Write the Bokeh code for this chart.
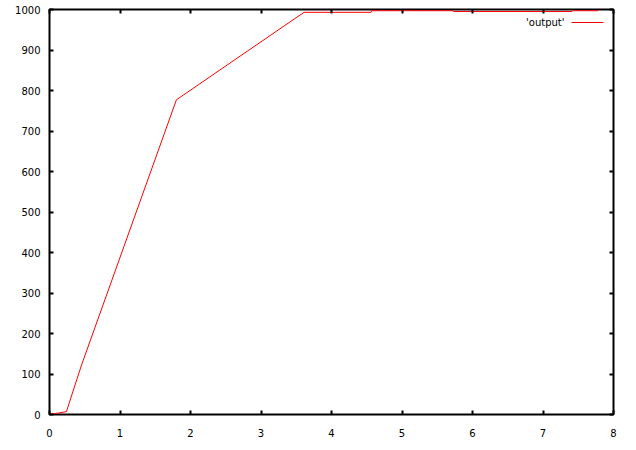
from bokeh.plotting import figure
from bokeh.models import Range1d, FixedTicker, LinearAxis, Label, Arrow, CustomJSTickFormatter
from bokeh.embed import file_html
from bokeh.resources import INLINE

# data
x_vals = [0.0, 0.24, 0.45, 1.80, 3.61, 4.56, 4.57, 5.72, 5.73, 7.41, 7.42, 7.78]
y_vals = [0, 7, 120, 777, 993, 993, 997, 997, 995, 995, 997, 997]
x_ticks = [0, 1, 2, 3, 4, 5, 6, 7, 8]
y_ticks = [0, 100, 200, 300, 400, 500, 600, 700, 800, 900, 1000]
series_label = "'output'"

FONT = "DejaVu Sans"

p = figure(width=620, height=434, output_backend="svg", toolbar_location=None,
           x_range=Range1d(0, 8), y_range=Range1d(0, 1000),
           min_border_left=49, min_border_right=7, min_border_top=9, min_border_bottom=20,
           frame_width=564, frame_height=405)
p.grid.visible = False
p.outline_line_color = "black"
p.outline_line_width = 2
p.background_fill_color = "white"
p.border_fill_color = "white"

def style(ax, ticks, labels=True):
    ax.ticker = FixedTicker(ticks=ticks)
    ax.minor_tick_line_color = None
    ax.major_tick_in = 4
    ax.major_tick_out = 0
    ax.major_tick_line_width = 2
    ax.major_tick_line_color = "black"
    ax.axis_line_color = None
    if labels:
        ax.major_label_text_font = FONT
        ax.major_label_text_font_size = "10px"
        ax.major_label_text_color = "black"
    else:
        ax.formatter = CustomJSTickFormatter(code="return ''")
        ax.major_label_standoff = 0
        ax.major_label_text_font_size = "1px"

style(p.xaxis[0], x_ticks)
p.xaxis[0].major_label_standoff = 14
style(p.yaxis[0], y_ticks)
p.yaxis[0].major_label_standoff = 9

top = LinearAxis()
style(top, x_ticks, labels=False)
p.add_layout(top, "above")
right = LinearAxis()
style(right, y_ticks, labels=False)
p.add_layout(right, "right")

p.line(x_vals, y_vals, line_color="#ff0000", line_width=1)

# gnuplot-style key: text then line sample, top right
p.add_layout(Label(x=515, y=392, x_units="screen", y_units="screen", text=series_label,
                   text_align="right", text_baseline="middle",
                   text_font=FONT, text_font_size="10px", text_color="black"))
p.add_layout(Arrow(x_start=522, y_start=392, x_end=554, y_end=392,
                   start_units="screen", end_units="screen", end=None, start=None,
                   line_color="#ff0000", line_width=1))

open("out.html", "w").write(file_html(p, INLINE))
